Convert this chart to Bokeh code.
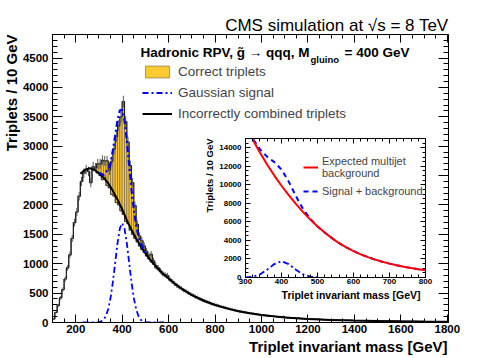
import numpy as np
from bokeh.plotting import figure
from bokeh.models import (Range1d, LinearAxis, SingleIntervalTicker, Label, Legend,
                          LegendItem, CustomJSTickFormatter, Column, ColumnDataSource, Title)
from bokeh.embed import file_html
from bokeh.resources import INLINE

FONT = "Liberation Sans"

# ---------------- data ----------------
BIN_LOW = 100
BIN_W = 10
# incorrectly combined triplets, per 10 GeV bin from 100 to 1800 GeV
INCORRECT = [
    60, 170, 290, 420, 560, 740, 930, 1150, 1430, 1700,
    1880, 2150, 2400, 2540, 2600, 2570, 2380, 2650, 2590, 2540,
    2500, 2430, 2470, 2330, 2290, 2180, 2150, 2040, 2000, 1900,
    1840, 1720, 1680, 1570, 1500, 1430, 1370, 1300, 1240, 1190,
    1130, 1080, 1030, 990, 930, 900, 860, 820, 790, 760,
    720, 690, 660, 630, 600, 580, 550, 530, 505, 480,
    465, 440, 425, 405, 385, 370, 355, 340, 320, 310,
    295, 285, 270, 262, 250, 240, 228, 220, 210, 200,
    192, 185, 175, 170, 162, 155, 150, 142, 137, 130,
    126, 120, 116, 112, 107, 104, 100, 96, 98, 100,
    86, 84, 80, 77, 75, 72, 70, 67, 65, 63,
    61, 59, 57, 55, 53, 52, 50, 48, 47, 45,
    44, 43, 42, 40, 39, 38, 37, 36, 35, 34,
    33, 32, 31, 31, 30, 29, 28, 28, 27, 26,
    26, 25, 25, 24, 23, 23, 22, 22, 21, 21,
    20, 20, 19, 19, 18, 18, 18, 17, 17, 17,
    16, 16, 16, 15, 15, 15, 14, 14, 14, 13,
]
# correct triplets, per 10 GeV bin starting at 280 GeV
CORRECT_LOW = 280
CORRECT = [40, 160, 200, 330, 280, 420, 300, 560, 800, 1120,
           1350, 1600, 1920, 1700, 1390, 1100, 880, 560, 300, 170,
           150, 110, 80, 60, 130, 60, 40, 30, 20, 10,
           25, 40, 20, 10]

# fit to incorrectly combined triplets
FIT_M = [220, 240, 260, 280, 300, 320, 340, 360, 380, 400, 420, 440, 460, 480, 500,
         520, 540, 560, 580, 600, 650, 700, 750, 800, 850, 900, 950, 1000, 1100,
         1200, 1300, 1400, 1500, 1600, 1700, 1800]
FIT_V = [2530, 2600, 2625, 2600, 2540, 2460, 2370, 2240, 2090, 1930, 1740, 1580, 1430,
         1300, 1180, 1075, 980, 890, 815, 750, 590, 465, 370, 298, 240, 192, 156, 127,
         87, 61, 44, 33, 25, 20, 16, 13]

# Gaussian signal (main panel)
GAUSS_M = [230, 260, 290, 300, 310, 320, 330, 340, 350, 360, 370, 380, 390, 400, 410,
           420, 430, 440, 450, 460, 470, 480, 490, 500, 510, 540, 580]
GAUSS_V = [0, 0, 2, 7, 19, 48, 110, 230, 420, 690, 1020, 1350, 1600, 1690, 1600,
           1350, 1020, 690, 420, 230, 110, 48, 19, 7, 2, 0, 0]
# Gaussian signal on top of the fit
SUMFIT_M = [300, 320, 330, 340, 350, 360, 370, 380, 390, 400, 410, 420, 430, 440, 450,
            460, 470, 480, 490, 500]
SUMFIT_V = [2550, 2510, 2560, 2600, 2720, 2930, 3185, 3440, 3610, 3620, 3435, 3090,
            2680, 2270, 1925, 1660, 1475, 1348, 1259, 1187]

# inset
INS_M = [300, 320, 340, 360, 380, 400, 420, 440, 460, 480, 500, 520, 540, 560, 580,
         600, 620, 640, 660, 680, 700, 720, 740, 760, 780, 800]
INS_BKG = [16600, 14900, 13500, 12200, 11000, 9900, 8900, 7950, 7050, 6250, 5500,
           4850, 4250, 3700, 3250, 2850, 2500, 2200, 1930, 1700, 1500, 1320, 1160,
           1020, 900, 790]
INS_SB = [16615, 14990, 13840, 13040, 12450, 11650, 10350, 8790, 7385, 6340, 5515,
          4850, 4250, 3700, 3250, 2850, 2500, 2200, 1930, 1700, 1500, 1320, 1160,
          1020, 900, 790]
INS_SIG_M = [300, 320, 340, 360, 380, 400, 420, 440, 460, 480, 500]
INS_SIG_V = [15, 90, 330, 840, 1450, 1750, 1450, 840, 330, 90, 15]

# ---------------- main figure ----------------
X0, X1 = 100, 1805
Y0, Y1 = 0, 4900

p = figure(width=496, height=356, x_range=Range1d(X0, X1), y_range=Range1d(Y0, Y1),
           x_axis_type=None, y_axis_type=None, output_backend="svg",
           toolbar_location=None, min_border_left=49, min_border_right=48,
           min_border_top=34, min_border_bottom=34,
           title="CMS simulation at \u221as = 8 TeV")
p.title.align = "right"
p.title.text_font = FONT
p.title.text_font_size = "17px"
p.title.text_font_style = "normal"
p.title.text_color = "black"
p.title.standoff = 0
p.outline_line_color = "black"
p.outline_line_width = 1
p.background_fill_color = "white"
p.border_fill_color = "white"


def add_axis(fig, side, ticker, tin, tmin, size=None, standoff=0, fixed=None):
    ax = LinearAxis(ticker=ticker, major_tick_in=tin, major_tick_out=0,
                    minor_tick_in=tmin, minor_tick_out=0,
                    axis_line_color="black", major_tick_line_color="black",
                    minor_tick_line_color="black")
    if fixed is None:
        ax.major_label_standoff = standoff
        ax.major_label_text_font = FONT
        ax.major_label_text_font_size = size
        ax.major_label_text_font_style = "bold"
        ax.major_label_text_color = "black"
    else:
        ax.fixed_location = fixed
        ax.formatter = CustomJSTickFormatter(code="return ''")
        ax.major_label_text_font_size = "0px"
        ax.major_label_standoff = 0
    fig.add_layout(ax, side)


def add_title(fig, side, text, size, standoff, offset=0):
    fig.add_layout(Title(text=text, align="right", text_font=FONT, text_font_size=size,
                         text_font_style="bold", text_color="black", offset=offset,
                         standoff=standoff), side)


add_axis(p, "below", SingleIntervalTicker(interval=200, num_minor_ticks=4), 8, 4, "11.5px", 2)
add_axis(p, "left", SingleIntervalTicker(interval=500, num_minor_ticks=5), 10, 5, "11.5px", 4)
add_axis(p, "above", SingleIntervalTicker(interval=200, num_minor_ticks=4), 8, 4, fixed=Y1)
add_axis(p, "right", SingleIntervalTicker(interval=500, num_minor_ticks=5), 10, 5, fixed=X1)
add_title(p, "below", "Triplet invariant mass [GeV]", "15px", 0, 1)
add_title(p, "left", "Triplets / 10 GeV", "15px", 0)

inc = np.array(INCORRECT, dtype=float)
edges = BIN_LOW + BIN_W * np.arange(len(inc) + 1)
corr_full = np.zeros_like(inc)
start = (CORRECT_LOW - BIN_LOW) // BIN_W
corr_full[start:start + len(CORRECT)] = CORRECT
total = inc + corr_full

mask = corr_full > 0
qsrc = ColumnDataSource(dict(left=edges[:-1][mask], right=edges[1:][mask],
                             bottom=inc[mask], top=total[mask]))
r_corr = p.quad(left="left", right="right", bottom="bottom", top="top", source=qsrc,
                fill_color="#FFC933", line_color="#444444", line_width=0.6, line_alpha=0.8)

p.step(x=edges, y=np.append(inc, inc[-1]), mode="after", line_color="#333333",
       line_width=1)
p.step(x=edges, y=np.append(total, total[-1]), mode="after", line_color="#222222",
       line_width=1.2)
centers = 0.5 * (edges[:-1] + edges[1:])
err = 1.6 * np.sqrt(total)
p.segment(x0=centers, x1=centers, y0=total - err, y1=total + err, line_color="#555555",
          line_width=1)

r_fit = p.line(FIT_M, FIT_V, line_color="black", line_width=2)
r_gauss = p.line(GAUSS_M, GAUSS_V, line_color="#0000FF", line_width=1.8, line_dash="6 3 2 3")
p.line(SUMFIT_M, SUMFIT_V, line_color="#0000FF", line_width=2.2, line_dash="6 3 2 3")

leg = Legend(items=[LegendItem(label="Correct triplets", renderers=[r_corr]),
                    LegendItem(label="Gaussian signal", renderers=[r_gauss]),
                    LegendItem(label="Incorrectly combined triplets", renderers=[r_fit])],
             location=(90, 201), orientation="vertical", glyph_width=30, glyph_height=15,
             label_height=15, spacing=6, padding=0, margin=0, label_standoff=6,
             label_text_font=FONT, label_text_font_size="13.5px",
             border_line_color=None, background_fill_alpha=0)
p.add_layout(leg)


def lab(fig, x, y, text, dx, dy, size, bold=False, align="left"):
    fig.add_layout(Label(x=x, y=y, x_offset=dx, y_offset=dy, text=text, text_font=FONT,
                         text_font_size=size, text_font_style="bold" if bold else "normal",
                         text_align=align, text_baseline="alphabetic", text_color="black"))


lab(p, X0, Y1, "Hadronic RPV, g\u0303 \u2192 qqq, M", 88, -18, "13.5px", bold=True)
lab(p, X0, Y1, "gluino", 258, -24.5, "9.5px", bold=True)
lab(p, X0, Y1, "= 400 GeV", 292, -18, "13.5px", bold=True)

# ---------------- inset ----------------
# (a column aligns the left/right borders of its plots, so the inset keeps the main borders)
IX0, IX1 = 300, 800
IY0, IY1 = 0, 15000
ins = figure(width=280, height=167, x_range=Range1d(IX0, IX1), y_range=Range1d(IY0, IY1),
             x_axis_type=None, y_axis_type=None, output_backend="svg",
             toolbar_location=None, min_border_left=49, min_border_right=48,
             min_border_top=4, min_border_bottom=24)
ins.styles = {"position": "absolute", "left": "193px", "top": "134px"}
ins.outline_line_color = "black"
ins.outline_line_width = 1
ins.background_fill_color = "white"
ins.border_fill_alpha = 0

add_axis(ins, "below", SingleIntervalTicker(interval=100, num_minor_ticks=5), 5, 3, "8px", 1)
add_axis(ins, "left", SingleIntervalTicker(interval=2000, num_minor_ticks=4), 5, 3, "8px", 4)
add_axis(ins, "above", SingleIntervalTicker(interval=100, num_minor_ticks=5), 5, 3, fixed=IY1)
add_axis(ins, "right", SingleIntervalTicker(interval=2000, num_minor_ticks=4), 5, 3, fixed=IX1)
add_title(ins, "below", "Triplet invariant mass [GeV]", "10.5px", 0, 5)
add_title(ins, "left", "Triplets / 10 GeV", "9.5px", 4)

r_sb = ins.line(INS_M, INS_SB, line_color="#0000FF", line_width=2, line_dash="5 4")
r_bkg = ins.line(INS_M, INS_BKG, line_color="#FF0000", line_width=2)
ins.line(INS_SIG_M, INS_SIG_V, line_color="#0000FF", line_width=1.8, line_dash="6 3 2 3")

ileg = Legend(items=[LegendItem(label="Expected multijet\nbackground", renderers=[r_bkg]),
                     LegendItem(label="Signal + background", renderers=[r_sb])],
              location=(58, 80), glyph_width=15, glyph_height=12, label_height=12,
              spacing=6, padding=0, margin=0, label_standoff=4, label_text_font=FONT,
              label_text_font_size="11px", border_line_color=None, background_fill_alpha=0)
ins.add_layout(ileg)

layout = Column(children=[p, ins])

open("out.html", "w").write(file_html(layout, INLINE))
